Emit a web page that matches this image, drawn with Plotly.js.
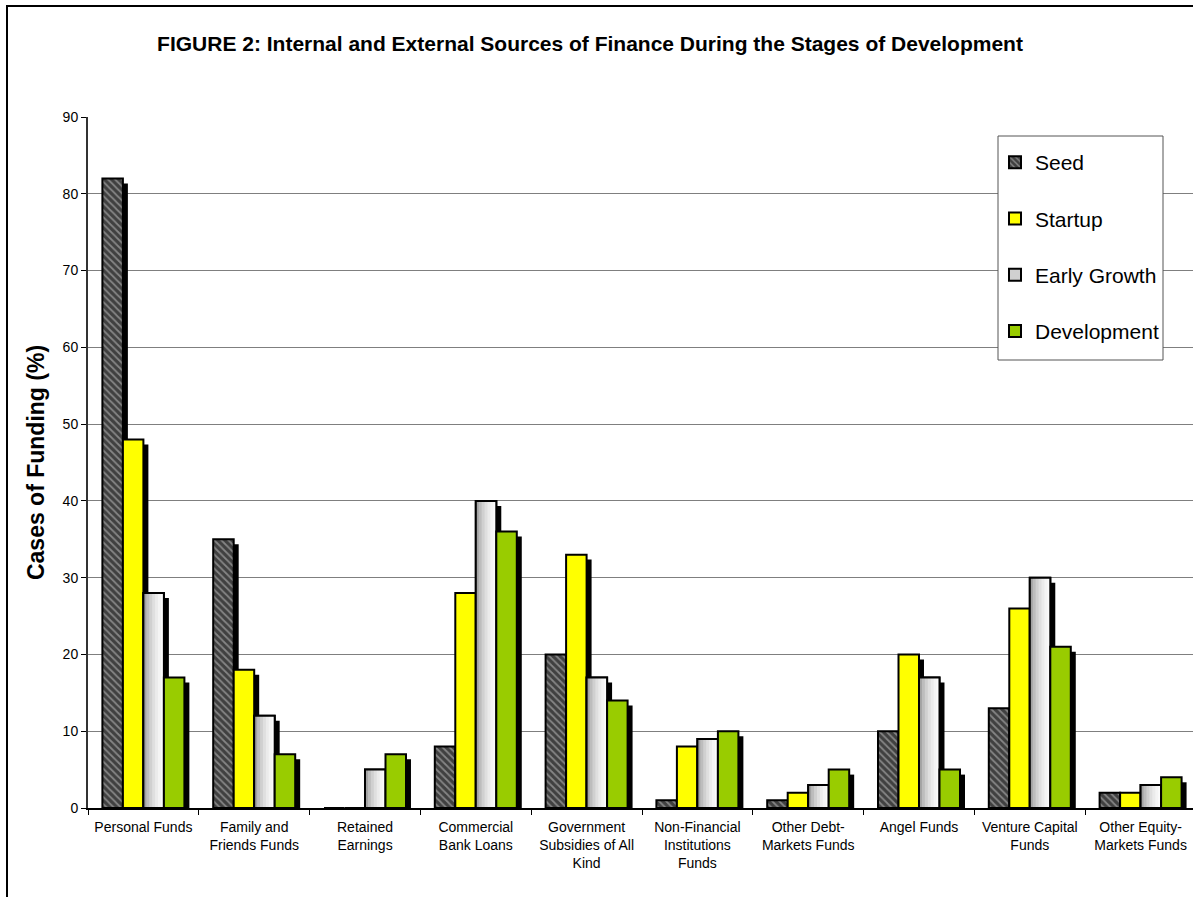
<!DOCTYPE html>
<html>
<head>
<meta charset="utf-8">
<script src="https://cdn.plot.ly/plotly-3.0.1.min.js"></script>
<style>
  html, body { margin: 0; padding: 0; overflow: hidden; background: #fff; }
  #chart { width: 1200px; height: 897px; }
  #frame { position: absolute; left: 6px; top: 5px; width: 1300px; height: 1000px;
           border-left: 2px solid #000; border-top: 2px solid #000; pointer-events: none; }
</style>
</head>
<body>
<div id="chart"></div>
<div id="frame"></div>
<script>
// ---- data ----
const categories = [
  "Personal Funds",
  "Family and<br>Friends Funds",
  "Retained<br>Earnings",
  "Commercial<br>Bank Loans",
  "Government<br>Subsidies of All<br>Kind",
  "Non-Financial<br>Institutions<br>Funds",
  "Other Debt-<br>Markets Funds",
  "Angel Funds",
  "Venture Capital<br>Funds",
  "Other Equity-<br>Markets Funds"
];
const seed        = [82, 35, 0, 8, 20, 1, 1, 10, 13, 2];
const startup     = [48, 18, 0, 28, 33, 8, 2, 20, 26, 2];
const earlyGrowth = [28, 12, 5, 40, 17, 9, 3, 17, 30, 3];
const development = [17, 7, 7, 36, 14, 10, 5, 5, 21, 4];
const seriesNames = ["Seed", "Startup", "Early Growth", "Development"];
const yTicks = [0, 10, 20, 30, 40, 50, 60, 70, 80, 90];

// ---- styling ----
const BW = 0.185;              // bar width (category units)
const offsets = [-0.37, -0.185, 0, 0.185];
const SHX = 0.045;             // shadow x shift (category units)
const SHY = 0.65;              // shadow drop (value units)
const outline = {color: "#000", width: 2};
const allSeries = [seed, startup, earlyGrowth, development];

const traces = [];
// shadows first
allSeries.forEach((s, i) => {
  traces.push({
    type: "bar", x: categories, y: s.map(v => Math.max(0, v - SHY)),
    offset: offsets[i] + SHX, width: BW,
    marker: {color: "#000", line: {width: 0}},
    showlegend: false, hoverinfo: "skip"
  });
});
// Seed (hatched dark gray)
traces.push({
  type: "bar", name: seriesNames[0], x: categories, y: seed,
  offset: offsets[0], width: BW, legendgroup: "g0",
  marker: {color: "#454545", line: outline,
           pattern: {shape: "\\", bgcolor: "#404040", fgcolor: "#858585", size: 5, solidity: 0.35}}
});
// Startup
traces.push({
  type: "bar", name: seriesNames[1], x: categories, y: startup,
  offset: offsets[1], width: BW, legendgroup: "g1",
  marker: {color: "#ffff00", line: outline}
});
// Early growth: base + gradient layers + outline
traces.push({
  type: "bar", name: seriesNames[2], x: categories, y: earlyGrowth,
  offset: offsets[2], width: BW, legendgroup: "g2",
  marker: {color: "#d0d0d0", line: outline}
});
const gradColors = ["#a3a3a3", "#bdbdbd", "#d0d0d0", "#dfdfdf", "#ebebeb", "#f4f4f4", "#fbfbfb"];
gradColors.forEach((c, k) => {
  const step = BW / gradColors.length;
  traces.push({
    type: "bar", x: categories, y: earlyGrowth,
    offset: offsets[2] + k * step, width: BW - k * step,
    marker: {color: c, line: {width: 0}},
    showlegend: false, hoverinfo: "skip"
  });
});
traces.push({
  type: "bar", x: categories, y: earlyGrowth,
  offset: offsets[2], width: BW,
  marker: {color: "rgba(0,0,0,0)", line: outline},
  showlegend: false, hoverinfo: "skip"
});
// Development
traces.push({
  type: "bar", name: seriesNames[3], x: categories, y: development,
  offset: offsets[3], width: BW, legendgroup: "g3",
  marker: {color: "#99cc00", line: outline}
});

const layout = {
  width: 1200, height: 897,
  margin: {l: 88, r: 4, t: 117, b: 89},
  paper_bgcolor: "#fff", plot_bgcolor: "#fff",
  barmode: "overlay",
  font: {family: "Arial, 'Liberation Sans', sans-serif", color: "#000", size: 14},
  title: {
    text: "<b>FIGURE 2: Internal and External Sources of Finance During the Stages of Development</b>",
    font: {size: 21, color: "#000"},
    x: 590 / 1200, xref: "container", xanchor: "center",
    y: 1 - 44 / 897, yref: "container", yanchor: "middle"
  },
  xaxis: {
    type: "category", tickson: "boundaries", ticks: "outside", ticklen: 5, tickcolor: "#000",
    showline: true, linecolor: "#000", linewidth: 2, showgrid: false,
    tickfont: {size: 14, color: "#000"}, tickangle: 0, automargin: false,
    ticklabelstandoff: 5
  },
  yaxis: {
    range: [0, 90], tickvals: yTicks, ticks: "outside", ticklen: 5, tickcolor: "#000",
    showline: true, linecolor: "#333", linewidth: 2,
    showgrid: true, gridcolor: "#7f7f7f", gridwidth: 1, zeroline: false,
    tickfont: {size: 14, color: "#000"},
    title: {text: "<b>Cases of Funding (%)</b>", font: {size: 23, color: "#000"}, standoff: 12},
    automargin: false
  },
  legend: {
    x: (995 - 88) / 1108, xanchor: "left",
    y: (808 - 142) / 691, yanchor: "top",
    bgcolor: "rgba(0,0,0,0)", borderwidth: 0,
    font: {size: 21, color: "#000"},
    tracegroupgap: 26, traceorder: "grouped"
  },
  shapes: [{
    type: "rect", xref: "paper", yref: "paper", layer: "above",
    x0: (998 - 88) / 1108, x1: (1163 - 88) / 1108,
    y0: (808 - 360) / 691, y1: (808 - 136) / 691,
    fillcolor: "#fff", line: {color: "#555", width: 1}
  }],
  showlegend: true
};

Plotly.newPlot("chart", traces, layout, {displayModeBar: false, staticPlot: true});
</script>
</body>
</html>
